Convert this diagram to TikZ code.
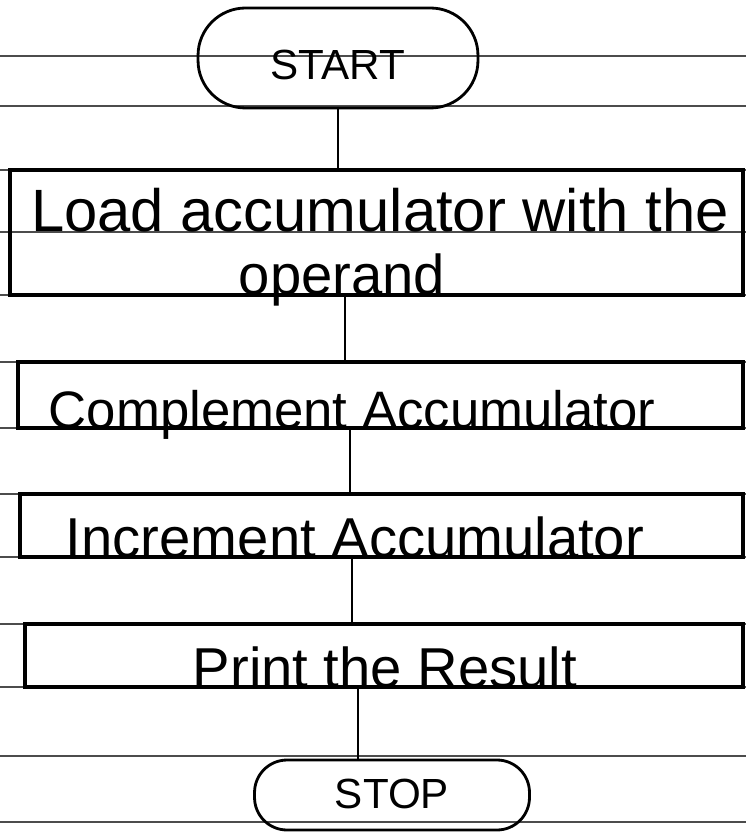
\documentclass[tikz,border=0pt]{standalone}
\usepackage{fontspec}
\setmainfont{Liberation Sans}

\begin{document}
\begin{tikzpicture}[x=0.02cm, y=-0.02cm,
    rule/.style={black!70, line width=0.7pt},
    term/.style={draw, line width=1.6pt, inner sep=0pt, text depth=0pt, font=\fontsize{24}{28}\selectfont},
    stepbox/.style={draw, line width=2pt, inner sep=0pt},
    link/.style={line width=1.2pt},
    hand/.style={anchor=base, font=\fontsize{32}{38}\selectfont}]
                % 纸面
                \fill[white] (0,0) rectangle (746,837);
                \useasboundingbox (0,0) rectangle (746,837);

                % 横格线
                \foreach \y in {56,106,170,232,295,362,428,494,557,624,687,756,822}
                    \draw[rule] (0,\y) -- (746,\y);

                % 起止框
                \node[term, text height=0.88cm, rounded corners=0.95cm, minimum width=5.6cm, minimum height=2cm] (start) at (338,58) {START};
                \node[term, text height=0.52cm, rounded corners=0.65cm, minimum width=5.5cm, minimum height=1.4cm] (stop) at (392,795) {STOP};

                % 处理框
                \node[stepbox, minimum width=14.66cm, minimum height=2.5cm] (load) at (376.5,232.5) {};
                \node[stepbox, minimum width=14.5cm, minimum height=1.32cm] (compl) at (380.5,395) {};
                \node[stepbox, minimum width=14.46cm, minimum height=1.26cm] (incr) at (381.5,525.5) {};
                \node[stepbox, minimum width=14.36cm, minimum height=1.26cm] (print) at (384,655.5) {};

                % 框内文字
                \node[hand, font=\fontsize{34}{40}\selectfont] (tload) at (380,232) {Load accumulator with the};
                \node[hand] (toper) at (342,295) {operand};
                \node[hand, font=\fontsize{30}{36}\selectfont] (tcompl) at (352,428) {Complement Accumulator};
                \node[hand] (tincr) at (355,557) {Increment Accumulator};
                \node[hand] (tprint) at (385,687) {Print the Result};

                % 连线
                \draw[link] (start.south) -- (start.south |- load.north);
                \foreach \a/\b/\s in {load/compl/0.63cm, compl/incr/0.61cm, incr/print/0.59cm, print/stop/0.52cm}
                    \draw[link] ([xshift=-\s]\a.south) -- ([xshift=-\s]\a.south |- \b.north);
            \end{tikzpicture}
\end{document}
